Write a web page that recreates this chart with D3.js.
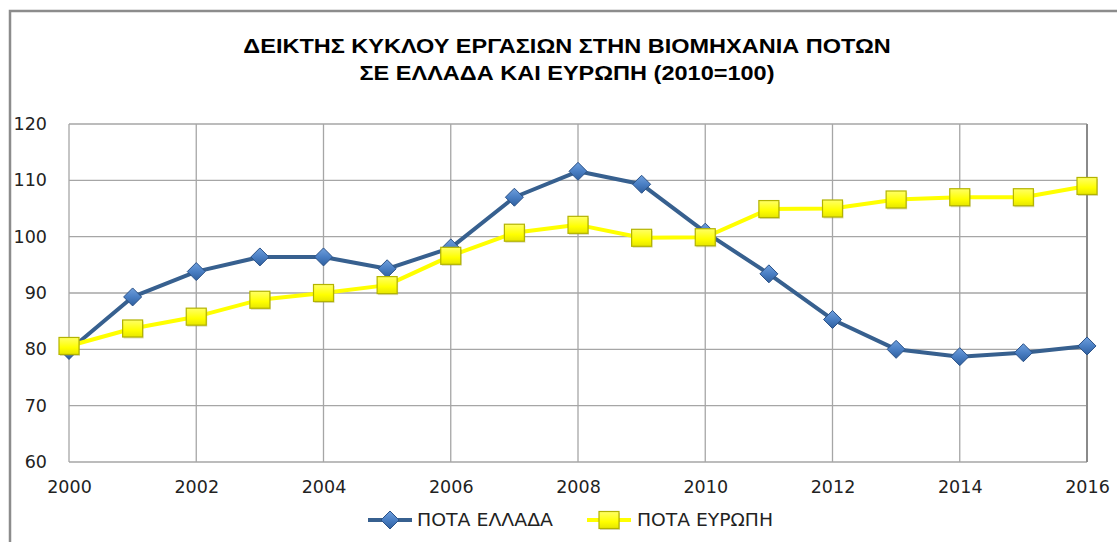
<!DOCTYPE html>
<html>
<head>
<meta charset="utf-8">
<script src="https://cdn.jsdelivr.net/npm/d3@7"></script>
<style>
html,body{margin:0;padding:0;background:#fff;}
svg{display:block;}
</style>
</head>
<body>
<svg id="chart" width="1117" height="542"></svg>
<script>
const years = [2000,2001,2002,2003,2004,2005,2006,2007,2008,2009,2010,2011,2012,2013,2014,2015,2016];
const greece = [79.8,89.3,93.8,96.4,96.4,94.3,98.0,107.0,111.6,109.3,100.8,93.4,85.3,80.0,78.7,79.4,80.6];
const europe = [80.6,83.7,85.8,88.8,90.0,91.4,96.6,100.7,102.1,99.8,99.9,104.9,105.0,106.6,107.0,107.0,109.0];
const xTicks = [2000,2002,2004,2006,2008,2010,2012,2014,2016];
const yTicks = [60,70,80,90,100,110,120];
const titleLines = ["ΔΕΙΚΤΗΣ ΚΥΚΛΟΥ ΕΡΓΑΣΙΩΝ ΣΤΗΝ ΒΙΟΜΗΧΑΝΙΑ ΠΟΤΩΝ","ΣΕ ΕΛΛΑΔΑ ΚΑΙ ΕΥΡΩΠΗ (2010=100)"];
const seriesNames = ["ΠΟΤΑ ΕΛΛΑΔΑ","ΠΟΤΑ ΕΥΡΩΠΗ"];

const svg = d3.select("#chart");
const defs = svg.append("defs");
const gB = defs.append("linearGradient").attr("id","gBlue").attr("x1","0").attr("y1","0").attr("x2","0").attr("y2","1");
gB.append("stop").attr("offset","0%").attr("stop-color","#6f9fdc");
gB.append("stop").attr("offset","50%").attr("stop-color","#4a7fc4");
gB.append("stop").attr("offset","100%").attr("stop-color","#2f5f9e");
const gY = defs.append("linearGradient").attr("id","gYel").attr("x1","0").attr("y1","0").attr("x2","0").attr("y2","1");
gY.append("stop").attr("offset","0%").attr("stop-color","#ffff66");
gY.append("stop").attr("offset","60%").attr("stop-color","#ffff00");
gY.append("stop").attr("offset","100%").attr("stop-color","#e6e600");

// outer frame (left + top)
svg.append("path").attr("d","M10,542 L10,11 L1117,11").attr("fill","none").attr("stroke","#8c8c8c").attr("stroke-width",2.5);

const L=69, R=1087, T=124, B=462;
const x = d3.scaleLinear().domain([2000,2016]).range([L,R]);
const y = d3.scaleLinear().domain([60,120]).range([B,T]);

// title (narrow-looking font is emulated by horizontal stretch of a bold sans)
svg.append("g").attr("transform","translate(567,0) scale(1.12,1)")
  .selectAll("text").data(titleLines).join("text")
  .attr("x",0).attr("y",(d,i)=>53+i*27)
  .attr("text-anchor","middle")
  .attr("font-family","'Liberation Sans',Arial,sans-serif")
  .attr("font-weight","bold").attr("font-size",21).attr("fill","#000")
  .text(d=>d);

// gridlines
const grid = svg.append("g");
grid.selectAll("line.h").data(yTicks).join("line")
  .attr("x1",L).attr("x2",R).attr("y1",d=>y(d)).attr("y2",d=>y(d))
  .attr("stroke","#a6a6a6").attr("stroke-width",1.3);
grid.selectAll("line.v").data(xTicks).join("line")
  .attr("y1",T).attr("y2",B).attr("x1",d=>x(d)).attr("x2",d=>x(d))
  .attr("stroke","#a6a6a6").attr("stroke-width",1.3);
grid.append("line").attr("x1",R).attr("x2",R).attr("y1",T).attr("y2",B).attr("stroke","#8a8a8a").attr("stroke-width",2);

// axes (labels only)
const yAxis = d3.axisLeft(y).tickValues(yTicks).tickSize(0).tickPadding(22);
const gy = svg.append("g").attr("transform",`translate(${L},0)`).call(yAxis);
gy.select(".domain").remove();
gy.selectAll("text").attr("font-family","'DejaVu Sans',Verdana,sans-serif").attr("font-size",17.5).attr("fill","#222");

const xAxis = d3.axisBottom(x).tickValues(xTicks).tickFormat(d3.format("d")).tickSize(0).tickPadding(19);
const gx = svg.append("g").attr("transform",`translate(0,${B})`).call(xAxis);
gx.select(".domain").remove();
gx.selectAll("text").attr("font-family","'DejaVu Sans',Verdana,sans-serif").attr("font-size",17.5).attr("fill","#222");

const line = d3.line().x((d,i)=>x(years[i])).y(d=>y(d));

function diamond(g, cx, cy){
  g.append("path").attr("d",`M${cx},${cy-9} L${cx+9},${cy} L${cx},${cy+9} L${cx-9},${cy} Z`)
    .attr("fill","url(#gBlue)").attr("stroke","#2a5187").attr("stroke-width",1);
}
function square(g, cx, cy){
  g.append("rect").attr("x",cx-9).attr("y",cy-7).attr("width",20).attr("height",17).attr("fill","#9a9a40").attr("opacity",0.35);
  g.append("rect").attr("x",cx-10).attr("y",cy-8.5).attr("width",20).attr("height",17)
    .attr("fill","url(#gYel)").attr("stroke","#b3b300").attr("stroke-width",1.2);
}

// Greece
svg.append("path").datum(greece).attr("d",line).attr("fill","none").attr("stroke","#37608f").attr("stroke-width",4).attr("stroke-linejoin","round");
const gm = svg.append("g");
greece.forEach((v,i)=>diamond(gm, x(years[i]), y(v)));

// Europe
svg.append("path").datum(europe).attr("d",line).attr("fill","none").attr("stroke","#ffff00").attr("stroke-width",4).attr("stroke-linejoin","round");
const em = svg.append("g");
europe.forEach((v,i)=>square(em, x(years[i]), y(v)));

// legend
const lg = svg.append("g");
lg.append("line").attr("x1",368).attr("x2",412).attr("y1",520).attr("y2",520).attr("stroke","#37608f").attr("stroke-width",4);
diamond(lg, 390, 520);
lg.append("line").attr("x1",587).attr("x2",631).attr("y1",520).attr("y2",520).attr("stroke","#ffff00").attr("stroke-width",4);
square(lg, 609, 520);
lg.selectAll("text.lt").data(seriesNames).join("text")
  .attr("x",(d,i)=>i===0?417:637).attr("y",526)
  .attr("textLength",136).attr("lengthAdjust","spacingAndGlyphs")
  .attr("font-family","'DejaVu Sans',Verdana,sans-serif").attr("font-size",17).attr("fill","#222")
  .text(d=>d);
</script>
</body>
</html>
